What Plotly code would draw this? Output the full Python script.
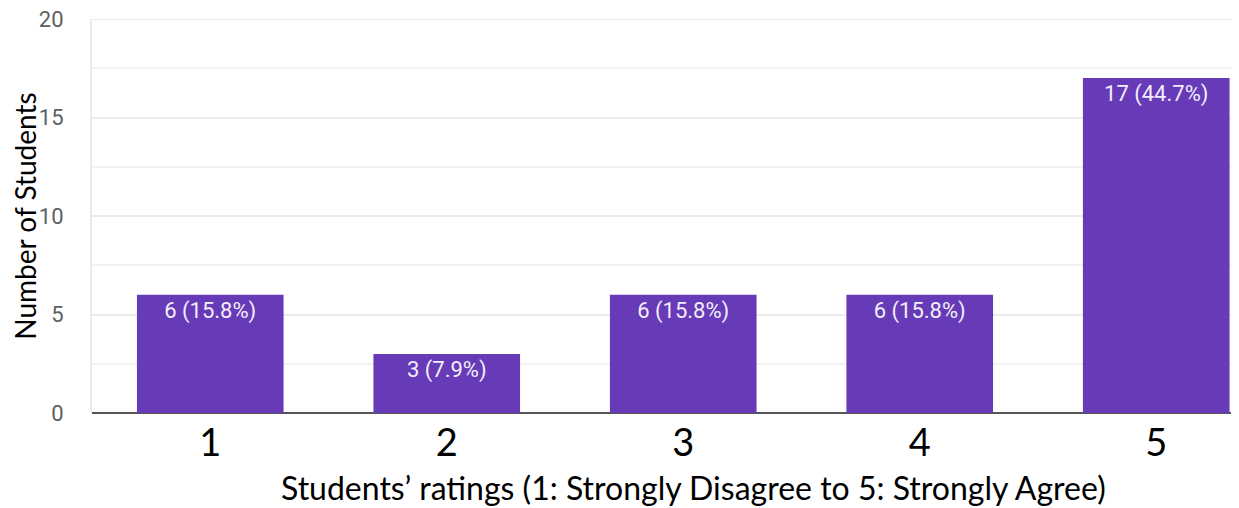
import plotly.graph_objects as go

ratings = [1, 2, 3, 4, 5]
counts = [6, 3, 6, 6, 17]
percents = [15.8, 7.9, 15.8, 15.8, 44.7]
tick_labels = ["1", "2", "3", "4", "5"]

labels = [f"{c} ({p}%)" for c, p in zip(counts, percents)]

fig = go.Figure(go.Bar(
    x=list(range(len(ratings))),
    y=counts,
    text=labels,
    textposition="inside",
    insidetextanchor="end",
    textangle=0,
    textfont=dict(family="Roboto, Arial", size=22, color="#f2eefa"),
    marker=dict(color="#673ab7", line=dict(width=0)),
    width=0.62,
    hoverinfo="skip",
))

# the page adds an 8px body margin, so the figure is shrunk to fit the window
fig.update_layout(
    width=1231, height=500,
    margin=dict(l=84, r=0, t=11, b=95),
    plot_bgcolor="white", paper_bgcolor="white",
    showlegend=False,
)

fig.update_xaxes(
    range=[-0.5, 4.35],
    tickmode="array",
    tickvals=list(range(len(ratings))),
    ticktext=tick_labels,
    tickfont=dict(family="Lato, Open Sans", size=38, color="black"),
    ticklabelstandoff=4,
    showgrid=False, zeroline=False,
    showline=False,
    ticks="",
    automargin=False,
)

fig.update_yaxes(
    range=[0, 20],
    tickvals=[0, 5, 10, 15, 20],
    tickfont=dict(family="Roboto, Arial", size=22, color="#606060"),
    ticklabelstandoff=22,
    ticklabeloverflow="allow",
    gridcolor="#ebebeb", gridwidth=2,
    minor=dict(dtick=2.5, showgrid=True, gridcolor="#f2f2f2", gridwidth=2),
    zeroline=True, zerolinecolor="#555555", zerolinewidth=2,
    showline=True, linecolor="#ebebeb", linewidth=2,
    automargin=False,
    title=dict(text="Number of Students",
               font=dict(family="Lato, Open Sans", size=28, color="black"),
               standoff=16),
)

# top gridline sits on the plot edge, plotly skips it
fig.add_hline(y=20, line=dict(color="#ebebeb", width=2), layer="below")

fig.add_annotation(
    text="Students’ ratings (1: Strongly Disagree to 5: Strongly Agree)",
    xref="paper", yref="paper", x=0.524, y=-0.188, yanchor="middle", showarrow=False,
    font=dict(family="Lato, Open Sans", size=32, color="black"),
)

fig.write_html("out.html")
